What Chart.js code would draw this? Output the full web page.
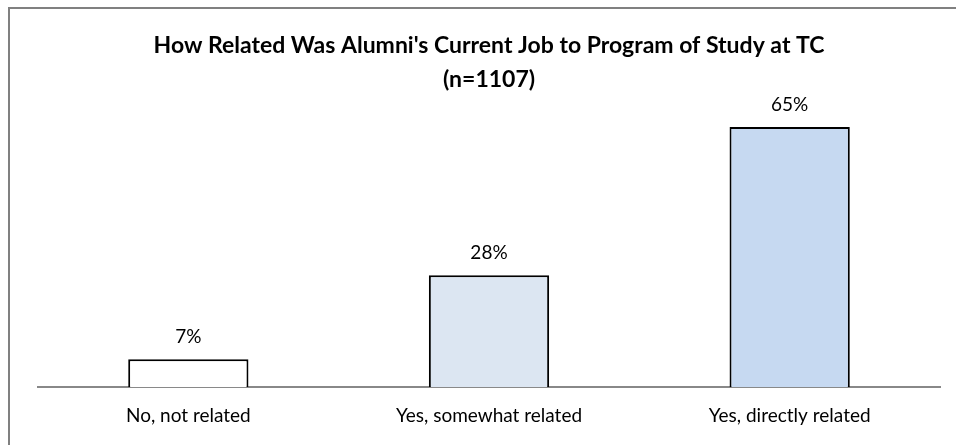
<!DOCTYPE html>
<html>
<head>
<meta charset="utf-8">
<script src="https://cdn.jsdelivr.net/npm/chart.js@4"></script>
<style>
  body { margin: 0; background: #fff; }
  #frame { position: absolute; left: 8px; top: 7px; width: 960px; height: 450px;
           border-left: 2px solid #808080; border-top: 2px solid #808080; }
  #wrap { position: absolute; left: 0; top: 0; width: 956px; height: 445px; }
</style>
</head>
<body>
<div id="frame"></div>
<div id="wrap"><canvas id="barChart" width="956" height="445"></canvas></div>
<script>
const categories = ["No, not related", "Yes, somewhat related", "Yes, directly related"];
const percents = [7, 28, 65];
const barColors = ["#ffffff", "#dce6f2", "#c6d9f1"];
const titleLines = ["How Related Was Alumni's Current Job to Program of Study at TC", "(n=1107)"];

const FONT = "Lato, 'Open Sans', sans-serif";

// draw the value above each bar
const valueLabels = {
  id: "valueLabels",
  afterDatasetsDraw(chart) {
    const ctx = chart.ctx;
    const meta = chart.getDatasetMeta(0);
    ctx.save();
    ctx.font = "19px " + FONT;
    ctx.fillStyle = "#000";
    ctx.textAlign = "center";
    ctx.textBaseline = "bottom";
    meta.data.forEach((bar, i) => {
      ctx.fillText(percents[i] + "%", bar.x, bar.y - 13);
    });
    ctx.restore();
  }
};

const ctx = document.getElementById("barChart").getContext("2d");
new Chart(ctx, {
  type: "bar",
  data: {
    labels: categories,
    datasets: [{
      data: percents,
      backgroundColor: barColors,
      borderColor: "#000",
      borderWidth: 2,
      barPercentage: 0.4,
      categoryPercentage: 1
    }]
  },
  options: {
    responsive: false,
    animation: false,
    layout: { padding: { left: 38, right: 16, top: 29, bottom: 9 } },
    plugins: {
      legend: { display: false },
      tooltip: { enabled: false },
      title: {
        display: true,
        text: titleLines,
        color: "#000",
        font: { family: FONT, size: 23, weight: "bold", lineHeight: 1.48 },
        padding: { top: 0, bottom: 10 }
      }
    },
    scales: {
      x: {
        grid: { display: false },
        border: { display: true, color: "#888", width: 2 },
        ticks: { color: "#000", padding: 9, font: { family: FONT, size: 19 } }
      },
      y: { display: false, min: 0, max: 70 }
    }
  },
  plugins: [valueLabels]
});
</script>
</body>
</html>
